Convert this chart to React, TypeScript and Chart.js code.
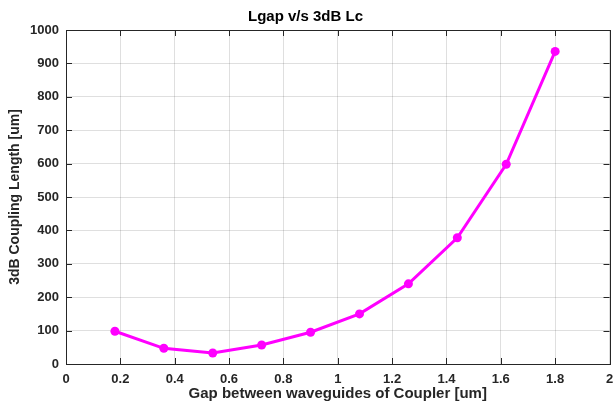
import React, { useEffect, useRef } from "react";
import { Chart, registerables } from "chart.js";

Chart.register(...registerables);

const gapValues = [0.18, 0.36, 0.54, 0.72, 0.9, 1.08, 1.26, 1.44, 1.62, 1.8];
const couplingLengths = [98, 47, 33, 57, 95, 150, 240, 378, 598, 936];
const chartTitle = "Lgap v/s 3dB Lc";
const xAxisTitle = "Gap between waveguides of Coupler [um]";
const yAxisTitle = "3dB Coupling Length [um]";

const AXIS_COLOR = "#262626";
const FONT = "'Liberation Sans', Arial, Helvetica, sans-serif";

const boxTicksPlugin = {
  id: "boxTicks",
  afterDraw(chart: any) {
    const { ctx, chartArea, scales } = chart;
    const { left, right, top, bottom } = chartArea;
    const len = 6;
    ctx.save();
    ctx.strokeStyle = AXIS_COLOR;
    ctx.lineWidth = 1;
    ctx.beginPath();
    scales.x.ticks.forEach((t: any) => {
      const px = Math.round(scales.x.getPixelForValue(t.value)) + 0.5;
      ctx.moveTo(px, bottom);
      ctx.lineTo(px, bottom - len);
      ctx.moveTo(px, top);
      ctx.lineTo(px, top + len);
    });
    scales.y.ticks.forEach((t: any) => {
      const py = Math.round(scales.y.getPixelForValue(t.value)) + 0.5;
      ctx.moveTo(left, py);
      ctx.lineTo(left + len, py);
      ctx.moveTo(right, py);
      ctx.lineTo(right - len, py);
    });
    ctx.stroke();
    ctx.strokeRect(Math.round(left) + 0.5, Math.round(top) + 0.5, Math.round(right - left), Math.round(bottom - top));
    ctx.restore();
  },
};

export default function App() {
  const canvasRef = useRef<HTMLCanvasElement>(null);

  useEffect(() => {
    document.body.style.margin = "0";
    const canvas = canvasRef.current;
    if (!canvas) return;
    const chart = new Chart(canvas, {
      type: "line",
      data: {
        datasets: [
          {
            data: gapValues.map((x, i) => ({ x, y: couplingLengths[i] })),
            borderColor: "#ff00ff",
            backgroundColor: "#ff00ff",
            borderWidth: 3,
            pointRadius: 4.5,
            pointBackgroundColor: "#ff00ff",
            pointBorderWidth: 0,
            tension: 0,
          },
        ],
      },
      options: {
        responsive: false,
        animation: false,
        layout: { padding: { left: 0, right: 3, top: 0, bottom: 0 } },
        plugins: {
          legend: { display: false },
          tooltip: { enabled: false },
          title: {
            display: true,
            text: chartTitle,
            color: "#000",
            font: { family: FONT, size: 15, weight: "bold" },
            padding: { top: 8, bottom: 4 },
          },
        },
        scales: {
          x: {
            type: "linear",
            min: 0,
            max: 2,
            ticks: {
              stepSize: 0.2,
              color: AXIS_COLOR,
              font: { family: FONT, size: 13, weight: "bold" },
              padding: 8,
              callback: (v: any) => String(Math.round(Number(v) * 10) / 10),
            },
            grid: { color: "rgba(38,38,38,0.15)", drawTicks: false },
            border: { display: false },
            title: {
              display: true,
              text: xAxisTitle,
              color: AXIS_COLOR,
              font: { family: FONT, size: 15, weight: "bold" },
              padding: { top: 2, bottom: 3 },
            },
            afterFit: (scale: any) => {
              scale.height = 42;
              scale.paddingRight = 0;
              scale.paddingLeft = 0;
            },
          },
          y: {
            type: "linear",
            min: 0,
            max: 1000,
            ticks: {
              stepSize: 100,
              color: AXIS_COLOR,
              font: { family: FONT, size: 13, weight: "bold" },
              padding: 7,
              callback: (v: any) => String(v),
            },
            grid: { color: "rgba(38,38,38,0.15)", drawTicks: false },
            border: { display: false },
            title: {
              display: true,
              text: yAxisTitle,
              color: AXIS_COLOR,
              font: { family: FONT, size: 14, weight: "bold" },
              padding: { top: 7, bottom: 4 },
            },
            afterFit: (scale: any) => {
              scale.width = 66;
            },
          },
        },
      },
      plugins: [boxTicksPlugin],
    });
    return () => chart.destroy();
  }, []);

  return (
    <div style={{ width: 614, height: 406, background: "#fff" }}>
      <canvas ref={canvasRef} width={614} height={406} />
    </div>
  );
}
